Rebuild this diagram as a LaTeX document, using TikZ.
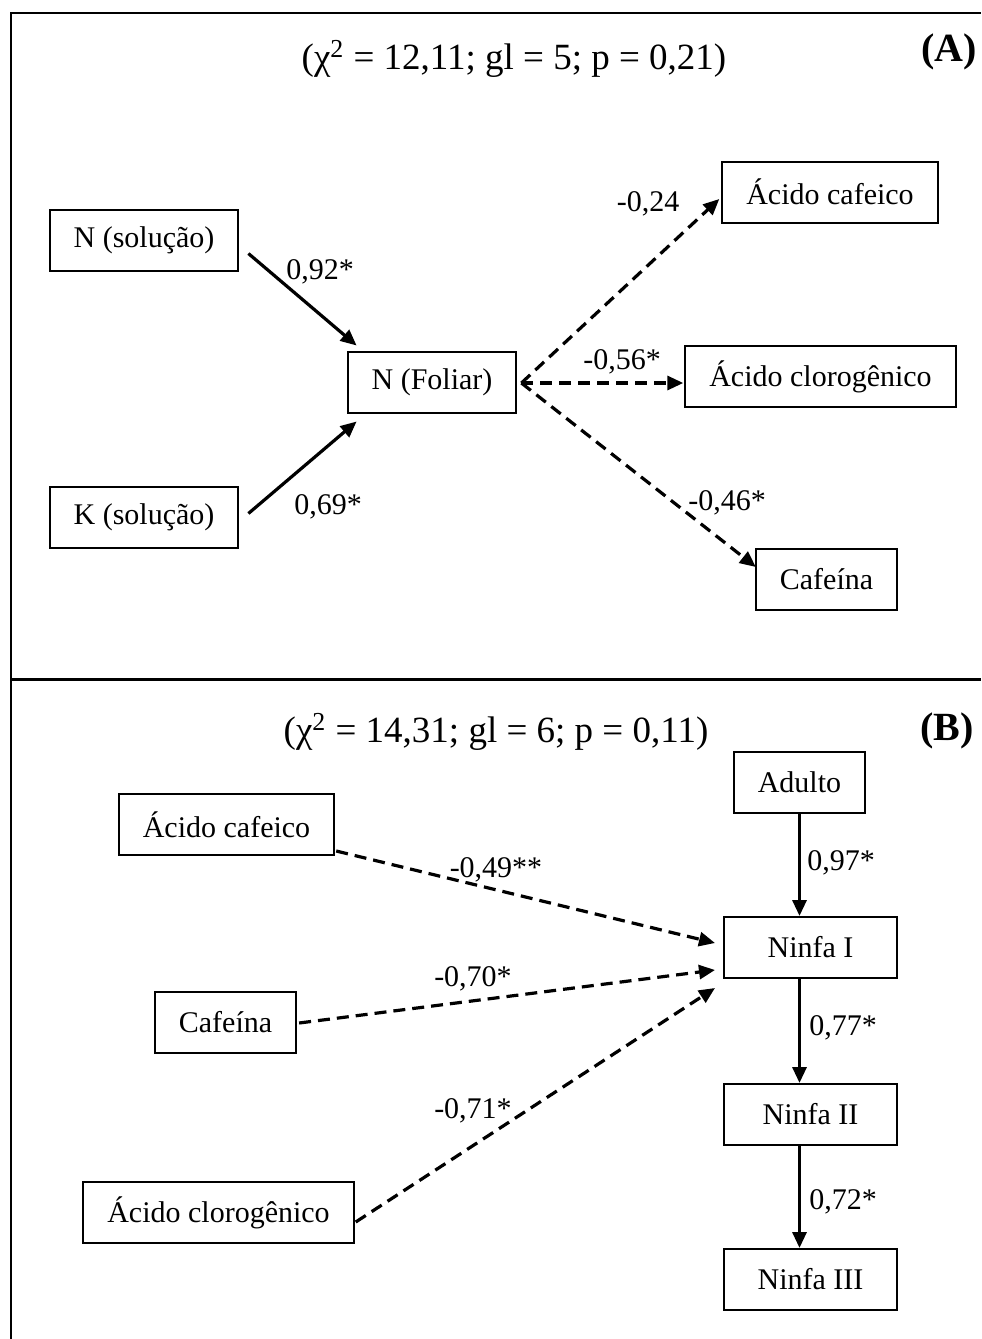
\documentclass[tikz,border=0pt]{standalone}
\usepackage{fontspec}
\setmainfont{Liberation Serif}
\usetikzlibrary{arrows.meta}

\tikzset{
    varbox/.style={draw, line width=1pt, minimum height=30.5pt, inner xsep=12pt, font=\fontsize{15}{18}\selectfont},
    ninfabox/.style={varbox, minimum width=86.5pt},
    coef/.style={font=\fontsize{15}{18}\selectfont},
    fitstat/.style={font=\fontsize{18.5}{22}\selectfont},
    panel/.style={font=\fontsize{20}{24}\selectfont\bfseries},
    sigpath/.style={line width=1.6pt, -{Triangle[length=8pt,width=7pt]}},
    nspath/.style={sigpath, dash pattern=on 6pt off 3.5pt},
}

\begin{document}
\begin{tikzpicture}[x=0.5pt, y=-0.5pt]

            \useasboundingbox (0,0) rectangle (981,1339);

            % Frame and divider
            \draw[line width=1pt] (11,1339) -- (11,13) -- (981,13);
            \draw[line width=1.5pt] (11,679) -- (981,679);

            % Panel A
            \node[fitstat] (chiA) at (514,59) {(χ\textsuperscript{2} = 12,11; gl = 5; p = 0,21)};
            \node[panel] (labA) at (949,52) {(A)};

            \node[varbox] (nsol) at (144,240.5) {N (solução)};
            \node[varbox] (ksol) at (144,517.5) {K (solução)};
            \node[varbox] (nfol) at (432,382) {N (Foliar)};
            \node[varbox] (acafA) at (830,192) {Ácido cafeico};
            \node[varbox] (acloA) at (820.5,376.5) {Ácido clorogênico};
            \node[varbox] (cafA) at (826.5,579.5) {Cafeína};

            \draw[sigpath] ([shift={(9,13)}]nsol.east) -- ([shift={(10,-5)}]nfol.north west);
            \draw[sigpath] ([shift={(9,-4)}]ksol.east) -- ([shift={(10,8)}]nfol.south west);
            \coordinate (fork) at ([shift={(4,1)}]nfol.east);
            \draw[nspath] (fork) -- ([shift={(-2,7)}]acafA.west);
            \draw[nspath] (fork) -- ([shift={(-1,6.5)}]acloA.west);
            \draw[nspath] (fork) -- ([shift={(1,19)}]cafA.north west);

            \node[coef] (cNsol) at (320,272) {0,92*};
            \node[coef] (cKsol) at (328,507) {0,69*};
            \node[coef] (cAcaf) at (648,204) {-0,24};
            \node[coef] (cAclo) at (622,362) {-0,56*};
            \node[coef] (cCaf) at (727,503) {-0,46*};

            % Panel B
            \node[fitstat] (chiB) at (496,732) {(χ\textsuperscript{2} = 14,31; gl = 6; p = 0,11)};
            \node[panel] (labB) at (947,731) {(B)};

            \node[varbox] (adulto) at (799.5,782.5) {Adulto};
            \node[ninfabox] (ninfa1) at (810.5,947.5) {Ninfa I};
            \node[ninfabox] (ninfa2) at (810.5,1114.5) {Ninfa II};
            \node[ninfabox] (ninfa3) at (810.5,1279.5) {Ninfa III};
            \node[varbox] (acafB) at (226.5,824.5) {Ácido cafeico};
            \node[varbox] (cafB) at (225.5,1022) {Cafeína};
            \node[varbox] (acloB) at (218.5,1212.5) {Ácido clorogênico};

            \draw[sigpath] (adulto.south) -- (adulto.south |- ninfa1.north);
            \draw[sigpath] (adulto.south |- ninfa1.south) -- (adulto.south |- ninfa2.north);
            \draw[sigpath] (adulto.south |- ninfa2.south) -- (adulto.south |- ninfa3.north);

            \draw[nspath] ([shift={(1,-5)}]acafB.south east) -- ([shift={(-8,-4.5)}]ninfa1.west);
            \draw[nspath] ([shift={(2,1)}]cafB.east) -- ([shift={(-8,22.5)}]ninfa1.west);
            \draw[nspath] ([shift={(1,9.5)}]acloB.east) -- ([shift={(-8,9)}]ninfa1.south west);

            \node[coef] (cAdulto) at (841,863) {0,97*};
            \node[coef] (cNinfa1) at (843,1028) {0,77*};
            \node[coef] (cNinfa2) at (843,1202) {0,72*};
            \node[coef] (cBcaf) at (496,870) {-0,49**};
            \node[coef] (cBcafe) at (473,979) {-0,70*};
            \node[coef] (cBclo) at (473,1111) {-0,71*};

\end{tikzpicture}
\end{document}
